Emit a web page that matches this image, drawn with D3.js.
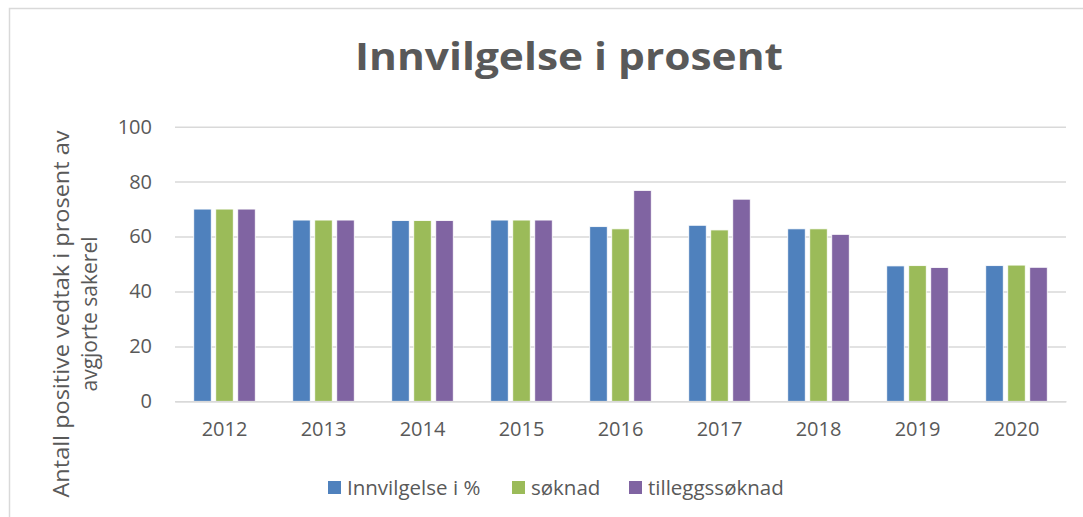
<!DOCTYPE html>
<html><head><meta charset="utf-8">
<script src="https://cdn.jsdelivr.net/npm/d3@7"></script>
<style>body{margin:0;background:#fff}svg{display:block}text{font-family:"Open Sans",sans-serif;fill:#595959}</style>
</head><body><svg id="c" width="1083" height="517"></svg>
<script>
const years = ["2012","2013","2014","2015","2016","2017","2018","2019","2020"];
const seriesNames = ["Innvilgelse i %","søknad","tilleggssøknad"];
const innvilgelse = [70,66,65.8,66,63.6,64.1,62.8,49.3,49.4];
const soknad = [70,66,65.8,66,62.8,62.4,62.8,49.4,49.6];
const tillegg = [70,66,65.8,66,76.8,73.6,60.8,48.7,48.8];
const yTicks = [0,20,40,60,80,100];
const colors = ["#4f81bd","#9bbb59","#8064a2"];
const seriesValues = [innvilgelse, soknad, tillegg];

const svg = d3.select("#c");
svg.append("rect").attr("x",9.5).attr("y",8.5).attr("width",1200).attr("height",600)
  .attr("fill","#fff").attr("stroke","#d9d9d9").attr("stroke-width",1.5);

const x0 = d3.scaleBand().domain(years).range([175,1066]);
const x1 = d3.scaleBand().domain(seriesNames).range([-30.75,30.75]).paddingInner(0.205);
const y = d3.scaleLinear().domain([0,100]).range([401.3,126.7]);

// gridlines
const grid = svg.append("g").call(d3.axisLeft(y).tickValues(yTicks).tickSize(-(1066-175)).tickFormat(""))
  .attr("transform","translate(175,0)");
grid.select(".domain").remove();
grid.selectAll("line").attr("stroke","#d9d9d9").attr("stroke-width",1.5);

// y labels
const ya = svg.append("g").attr("transform","translate(175,0)")
  .call(d3.axisLeft(y).tickValues(yTicks).tickSize(0).tickPadding(23));
ya.select(".domain").remove();
ya.selectAll("text").style("font-size","20px").attr("fill","#595959").style("font-family","'Open Sans',sans-serif");

// bars
seriesNames.forEach((s,si)=>{
  svg.append("g").selectAll("rect").data(years).join("rect")
    .attr("x",d=>x0(d)+x0.bandwidth()/2+x1(s))
    .attr("width",x1.bandwidth())
    .attr("y",(d,i)=>y(seriesValues[si][i]))
    .attr("height",(d,i)=>y(0)-y(seriesValues[si][i]))
    .attr("fill",colors[si]).attr("stroke","#fff").attr("stroke-width",0.8);
});

// x axis
const xa = svg.append("g").attr("transform","translate(0,401.3)")
  .call(d3.axisBottom(x0).tickSize(0).tickPadding(21));
xa.select(".domain").attr("stroke","#d9d9d9").attr("stroke-width",1.5);
xa.selectAll("text").style("font-size","20px").attr("fill","#595959").style("font-family","'Open Sans',sans-serif");

// title
svg.append("text").attr("x",569).attr("y",70).attr("text-anchor","middle")
  .style("font-size","37px").style("font-weight","bold").text("Innvilgelse i prosent")
  .attr("textLength",428).attr("lengthAdjust","spacingAndGlyphs");

// y axis title
const yt = svg.append("text").attr("transform","translate(0,314) rotate(-90)").attr("text-anchor","middle")
  .style("font-size","21px");
yt.append("tspan").attr("x",0).attr("y",68.5).attr("textLength",367).attr("lengthAdjust","spacingAndGlyphs").text("Antall positive vedtak i prosent av");
yt.append("tspan").attr("x",0).attr("y",97).text("avgjorte sakerel");

// legend
const legX = [328,512,629];
seriesNames.forEach((s,i)=>{
  svg.append("rect").attr("x",legX[i]).attr("y",481).attr("width",13).attr("height",13).attr("fill",colors[i]);
  svg.append("text").attr("x",legX[i]+19).attr("y",494.5).style("font-size","20.5px").text(s);
});
</script></body></html>
